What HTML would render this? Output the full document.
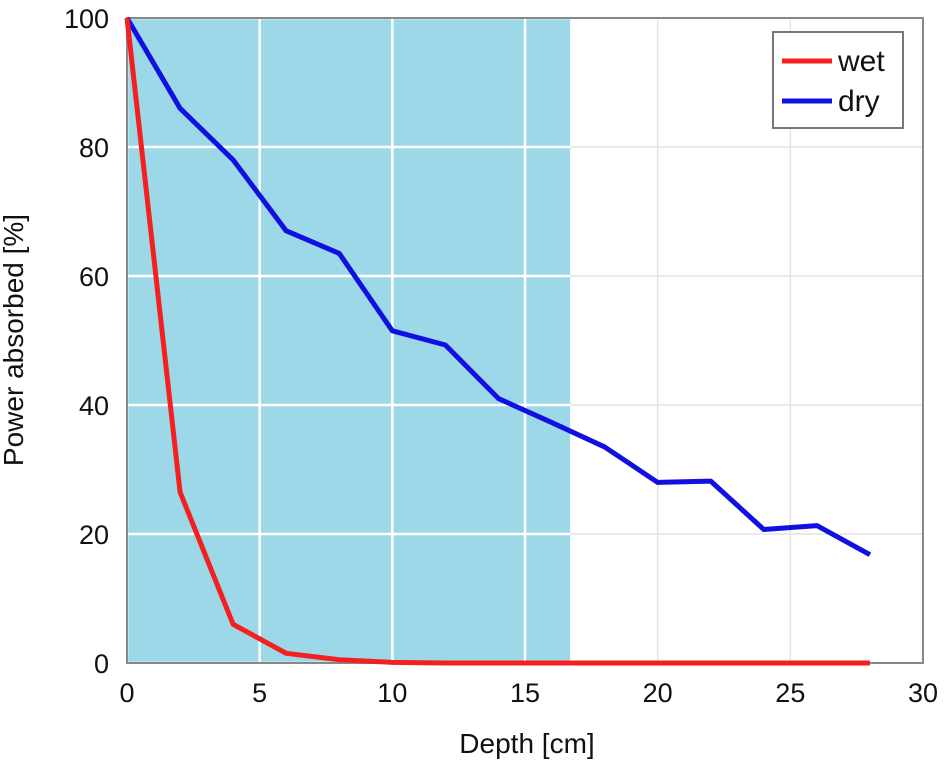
<!DOCTYPE html>
<html><head><meta charset="utf-8"><style>
body{margin:0;background:#fff;}
svg{display:block;font-family:"Liberation Sans",Arial,sans-serif;}
</style></head><body>
<svg id="chart" width="951" height="761" viewBox="0 0 951 761"></svg>
<script>
const depthDry=[0,2,4,6,8,10,12,14,16,18,20,22,24,26,28];
const dryValues=[100,86,78,67,63.5,51.5,49.3,41,37.3,33.5,28,28.2,20.7,21.3,16.8];
const depthWet=[0,2,4,6,8,10,12,14,16,18,20,22,24,26,28];
const wetValues=[100,26.5,6,1.5,0.5,0.1,0,0,0,0,0,0,0,0,0];
const xTicks=[0,5,10,15,20,25,30];
const yTicks=[0,20,40,60,80,100];
const shadeEnd=[16.7];

const L=127,R=923,T=18,B=663;
const X=v=>L+(v/30)*(R-L);
const Y=v=>B-(v/100)*(B-T);
const svg=document.getElementById('chart');
const NS='http://www.w3.org/2000/svg';
function mk(tag,attrs,parent){const e=document.createElementNS(NS,tag);for(const k in attrs)e.setAttribute(k,attrs[k]);(parent||svg).appendChild(e);return e;}

const shade=mk('rect',{x:L,y:T,width:X(shadeEnd[0])-L,height:B-T,fill:'#9dd8e8'});



xTicks.forEach(t=>{
  const g=mk('line',{x1:X(t),x2:X(t),y1:T,y2:B,stroke:X(t)<X(shadeEnd[0])?'#ffffff':'#e4e4e4','stroke-width':X(t)<X(shadeEnd[0])?2.5:1.5});
  
  
  const tx=mk('text',{x:X(t),y:702,'text-anchor':'middle','font-size':27,fill:'#111'});
  tx.textContent=t;
  
  
});
yTicks.forEach(t=>{
  const g=mk('line',{x1:L,x2:R,y1:Y(t),y2:Y(t),stroke:'#e4e4e4','stroke-width':1.5});
  
  
  const g2=mk('line',{x1:L,x2:X(shadeEnd[0]),y1:Y(t),y2:Y(t),stroke:'#ffffff','stroke-width':2.5});
  
  
  const tx=mk('text',{x:109,y:Y(t)+10,'text-anchor':'end','font-size':27,fill:'#111'});
  tx.textContent=t;
  
  
});
const frame=mk('rect',{x:L,y:T,width:R-L,height:B-T,fill:'none',stroke:'#888','stroke-width':2});



function series(xs,ys,color,name){
  const p=mk('polyline',{points:xs.map((x,i)=>X(x)+','+Y(ys[i])).join(' '),fill:'none',stroke:color,'stroke-width':5,'stroke-linejoin':'round'});
  
  
}
series(depthDry,dryValues,'#1010e0','dry-line');
series(depthWet,wetValues,'#f42020','wet-line');

const lg=mk('g',{});


mk('rect',{x:773,y:32,width:130,height:96,fill:'#fff',stroke:'#777','stroke-width':2},lg);
mk('line',{x1:782,x2:832,y1:61,y2:61,stroke:'#f42020','stroke-width':5},lg);
mk('line',{x1:782,x2:832,y1:101,y2:101,stroke:'#1010e0','stroke-width':5},lg);
const t1=mk('text',{x:838,y:71,'font-size':30,fill:'#111'},lg);t1.textContent='wet';


const t2=mk('text',{x:838,y:111,'font-size':30,fill:'#111'},lg);t2.textContent='dry';



const xt=mk('text',{x:527,y:753,'text-anchor':'middle','font-size':28,fill:'#111'});
xt.textContent='Depth [cm]';


const yt=mk('text',{x:0,y:0,'text-anchor':'middle','font-size':28,fill:'#111',transform:'translate(23,340) rotate(-90)'});
yt.textContent='Power absorbed [%]';


</script>
</body></html>
